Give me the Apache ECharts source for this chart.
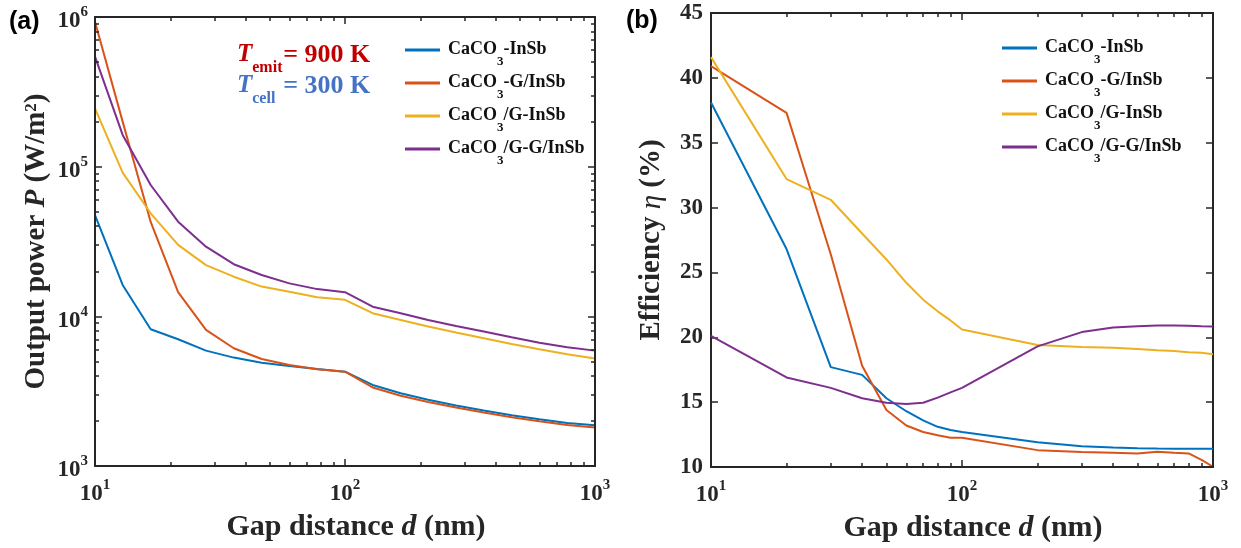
<!DOCTYPE html>
<html><head><meta charset="utf-8">
<script src="https://cdn.jsdelivr.net/npm/echarts@6.0.0/dist/echarts.min.js"></script>
<style>html,body{margin:0;padding:0;background:#fff}#c{width:1241px;height:548px}</style>
</head><body><div id="c"></div>
<script>
// ---------- data ----------
const seriesNames = ['CaCO3-InSb', 'CaCO3-G/InSb', 'CaCO3/G-InSb', 'CaCO3/G-G/InSb'];
const seriesColors = ['#0072BD', '#D95319', '#EDB120', '#7E2F8E'];
// panel (a): output power vs gap distance
const gapPower = [10, 12.9, 16.7, 21.5, 27.8, 35.9, 46.4, 59.9, 77.4, 100, 129, 167, 215, 278, 359, 464, 599, 774, 1000];
const powerA = [47500, 16200, 8200, 7030, 5900, 5300, 4900, 4660, 4450, 4270, 3480, 3060, 2770, 2540, 2350, 2180, 2050, 1940, 1870];
const powerB = [931000, 200000, 42700, 14500, 8110, 6120, 5190, 4730, 4430, 4270, 3350, 2950, 2680, 2460, 2280, 2120, 1990, 1880, 1810];
const powerC = [245000, 91200, 48800, 30000, 22000, 18400, 15800, 14600, 13400, 12900, 10500, 9460, 8540, 7790, 7140, 6540, 6030, 5580, 5220];
const powerD = [543000, 163000, 75400, 42900, 29200, 22300, 18900, 16600, 15200, 14500, 11600, 10500, 9460, 8630, 7910, 7250, 6670, 6210, 5900];
// panel (b): efficiency vs gap distance
const gapEff = [10, 20, 30, 40, 50, 60, 70, 80, 90, 100, 200, 300, 400, 500, 600, 700, 800, 900, 1000];
const effA = [38.1, 26.8, 17.7, 17.1, 15.3, 14.3, 13.6, 13.1, 12.85, 12.7, 11.9, 11.6, 11.5, 11.45, 11.42, 11.41, 11.4, 11.4, 11.4];
const effB = [40.9, 37.3, 26.4, 17.8, 14.4, 13.2, 12.7, 12.45, 12.25, 12.25, 11.3, 11.15, 11.1, 11.05, 11.18, 11.1, 11.05, 10.55, 10.02];
const effC = [41.6, 32.2, 30.6, 28.0, 26.0, 24.2, 22.9, 22.0, 21.3, 20.6, 19.4, 19.25, 19.2, 19.1, 19.0, 18.95, 18.85, 18.8, 18.7];
const effD = [20.1, 16.9, 16.1, 15.3, 14.95, 14.85, 14.95, 15.35, 15.75, 16.1, 19.3, 20.4, 20.75, 20.85, 20.9, 20.9, 20.88, 20.85, 20.83];
// axis ranges / ticks
const gapRange = [10, 1000];
const powerRange = [1000, 1000000];
const effRange = [10, 45];
const effStep = 5;
const gapMinorTicks = [20, 30, 40, 50, 60, 70, 80, 90, 200, 300, 400, 500, 600, 700, 800, 900];
const powerMinorTicks = [2000, 3000, 4000, 5000, 6000, 7000, 8000, 9000,
  20000, 30000, 40000, 50000, 60000, 70000, 80000, 90000,
  200000, 300000, 400000, 500000, 600000, 700000, 800000, 900000];

// ---------- styling ----------
const AX = '#262626';
const SERIF = 'Liberation Serif';
const powRich = {
  b: { fontFamily: SERIF, fontWeight: 'bold', fontSize: 23, color: AX, lineHeight: 33, height: 24, verticalAlign: 'bottom' },
  s: { fontFamily: SERIF, fontWeight: 'bold', fontSize: 15, color: AX, height: 24, verticalAlign: 'top' }
};
const powFmt = v => '{b|10}{s|' + Math.round(Math.log10(v)) + '}';
function nameRich(fs) {
  return {
    n: { fontFamily: SERIF, fontWeight: 'bold', fontSize: fs, color: AX, lineHeight: 34, verticalAlign: 'middle' },
    i: { fontFamily: SERIF, fontWeight: 'bold', fontStyle: 'italic', fontSize: fs, color: AX, lineHeight: 34, verticalAlign: 'middle' },
    g: { fontFamily: SERIF, fontStyle: 'italic', fontSize: fs, color: AX, lineHeight: 34, verticalAlign: 'middle' },
    p: { fontFamily: SERIF, fontWeight: 'bold', fontSize: 17, color: AX, height: 24, verticalAlign: 'top' }
  };
}
const legRich = {
  t0: { fontFamily: SERIF, fontWeight: 'bold', fontSize: 18, color: '#111', lineHeight: 30, height: 28, verticalAlign: 'top', padding: [0, 0, 0, 3] },
  t: { fontFamily: SERIF, fontWeight: 'bold', fontSize: 18, color: '#111', lineHeight: 30, height: 28, verticalAlign: 'top' },
  s: { fontFamily: SERIF, fontWeight: 'bold', fontSize: 13, color: '#111', height: 7, verticalAlign: 'bottom' }
};
const legFmt = name => '{t0|CaCO}{s|3}{t|' + name.slice(5) + '}';

function logAxis(grid, pos, opts) {
  const major = opts.major;
  return Object.assign({
    type: 'log', logBase: 10, gridIndex: grid, position: pos,
    min: opts.range[0], max: opts.range[1],
    splitLine: { show: false },
    axisLine: { show: major, onZero: false, lineStyle: { color: AX, width: 2 } },
    axisTick: Object.assign({ show: true, inside: true, length: major ? 7 : 4, lineStyle: { color: AX, width: 1.5 } },
      major ? {} : { customValues: opts.minor }),
    axisLabel: { show: false },
    z: 5
  }, opts.extra || {});
}
function valAxis(grid, pos, extra) {
  return Object.assign({
    type: 'value', gridIndex: grid, position: pos,
    min: effRange[0], max: effRange[1], interval: effStep,
    splitLine: { show: false },
    axisLine: { show: true, onZero: false, lineStyle: { color: AX, width: 2 } },
    axisTick: { show: true, inside: true, length: 7, lineStyle: { color: AX, width: 1.5 } },
    axisLabel: { show: false }
  }, extra || {});
}
const xLabel = { show: true, margin: 7, formatter: powFmt, rich: powRich };
const xName = {
  name: '{n|Gap distance }{i|d}{n| (nm)}', nameLocation: 'middle', nameGap: 44,
  nameTextStyle: { rich: nameRich(30), padding: [0, 0, 0, 22] }
};

const xAxes = [
  logAxis(0, 'bottom', { major: true, range: gapRange, extra: Object.assign({ axisLabel: xLabel }, xName) }),
  logAxis(0, 'bottom', { major: false, range: gapRange, minor: gapMinorTicks }),
  logAxis(0, 'top', { major: true, range: gapRange }),
  logAxis(0, 'top', { major: false, range: gapRange, minor: gapMinorTicks }),
  logAxis(1, 'bottom', { major: true, range: gapRange, extra: Object.assign({ axisLabel: xLabel }, xName) }),
  logAxis(1, 'bottom', { major: false, range: gapRange, minor: gapMinorTicks }),
  logAxis(1, 'top', { major: true, range: gapRange }),
  logAxis(1, 'top', { major: false, range: gapRange, minor: gapMinorTicks })
];
const yAxes = [
  logAxis(0, 'left', { major: true, range: powerRange, extra: {
    axisLabel: { show: true, margin: 7, formatter: powFmt, rich: powRich },
    name: '{n|Output power }{i|P}{n| (W/m}{p|2}{n|)}', nameLocation: 'middle', nameGap: 41,
    nameTextStyle: { rich: nameRich(29) }
  } }),
  logAxis(0, 'left', { major: false, range: powerRange, minor: powerMinorTicks }),
  logAxis(0, 'right', { major: true, range: powerRange }),
  logAxis(0, 'right', { major: false, range: powerRange, minor: powerMinorTicks }),
  valAxis(1, 'left', {
    axisLabel: { show: true, margin: 8, fontFamily: SERIF, fontWeight: 'bold', fontSize: 23, color: AX },
    name: '{n|Efficiency }{g|η}{n| (%)}', nameLocation: 'middle', nameGap: 42,
    nameTextStyle: { rich: nameRich(29) }
  }),
  valAxis(1, 'right')
];

const powerSets = [powerA, powerB, powerC, powerD];
const effSets = [effA, effB, effC, effD];
const series = [];
seriesNames.forEach((nm, k) => {
  series.push({
    name: nm, type: 'line', xAxisIndex: 0, yAxisIndex: 0, symbol: 'none', showSymbol: false,
    color: seriesColors[k], lineStyle: { color: seriesColors[k], width: 2 }, z: 3,
    data: gapPower.map((d, i) => [d, powerSets[k][i]])
  });
});
seriesNames.forEach((nm, k) => {
  series.push({
    name: nm, type: 'line', xAxisIndex: 4, yAxisIndex: 4, symbol: 'none', showSymbol: false,
    color: seriesColors[k], lineStyle: { color: seriesColors[k], width: 2 }, z: 3,
    data: gapEff.map((d, i) => [d, effSets[k][i]])
  });
});

const legendBase = {
  orient: 'vertical', icon: 'rect', itemWidth: 35, itemHeight: 3, itemGap: 0,
  data: seriesNames, formatter: legFmt, textStyle: { rich: legRich }, selectedMode: false
};

const annRich = (col, subH) => ({
  T: { fontFamily: SERIF, fontWeight: 'bold', fontStyle: 'italic', fontSize: 25, fill: col, lineHeight: 30, verticalAlign: 'middle' },
  s: { fontFamily: SERIF, fontWeight: 'bold', fontSize: 16, fill: col, width: 31, height: subH, verticalAlign: 'bottom' },
  r: { fontFamily: SERIF, fontWeight: 'bold', fontSize: 26, fill: col, lineHeight: 30, verticalAlign: 'middle' }
});

const option = {
  animation: false,
  backgroundColor: '#fff',
  grid: [
    { left: 95, top: 17, width: 500, height: 449 },
    { left: 711, top: 13, width: 502, height: 455 }
  ],
  xAxis: xAxes,
  yAxis: yAxes,
  legend: [
    Object.assign({ left: 400, top: 30 }, legendBase),
    Object.assign({ left: 997, top: 28 }, legendBase)
  ],
  series: series,
  graphic: [
    { type: 'text', x: 9, y: 22, style: { text: '(a)', font: 'bold 25px "Liberation Sans"', fill: '#000', verticalAlign: 'middle', textVerticalAlign: 'middle' } },
    { type: 'text', x: 626, y: 21, style: { text: '(b)', font: 'bold 25px "Liberation Sans"', fill: '#000', verticalAlign: 'middle', textVerticalAlign: 'middle' } },
    { type: 'text', x: 237, y: 55, style: { text: '{T|T}{s|emit}{r|= 900 K}', rich: annRich('#C00000', 4), fill: '#C00000', verticalAlign: 'middle', textVerticalAlign: 'middle' } },
    { type: 'text', x: 237, y: 86, style: { text: '{T|T}{s|cell}{r|= 300 K}', rich: annRich('#4472C4', 4), fill: '#4472C4', verticalAlign: 'middle', textVerticalAlign: 'middle' } }
  ]
};

const chart = echarts.init(document.getElementById('c'), null, { renderer: 'canvas' });
chart.setOption(option);
</script>
</body></html>
